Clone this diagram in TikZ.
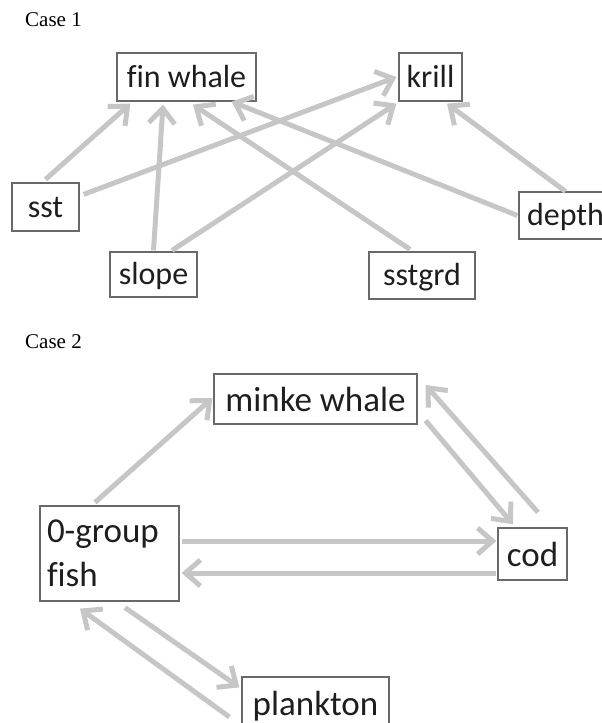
\documentclass[tikz,border=0pt]{standalone}
\usepackage{fontspec}
\setmainfont{Carlito}[Ligatures=NoCommon]
\newfontfamily\casefont{Liberation Serif}
\usetikzlibrary{arrows.meta}

\definecolor{arrgray}{RGB}{198,198,198}
\definecolor{boxgray}{RGB}{105,105,105}
\definecolor{txtgray}{RGB}{30,30,30}

\begin{document}
\begin{tikzpicture}[x=1pt, y=-1pt,
    box/.style={rectangle, draw=boxgray, line width=1.2pt, text=txtgray, inner sep=0pt},
    small/.style={font=\fontsize{32}{38}\selectfont, text height=24pt, text depth=4pt},
    big/.style={font=\fontsize{35}{44}\selectfont, text height=28pt, text depth=3pt},
    arr/.style={draw=arrgray, line width=5pt, -{Straight Barb[length=15pt, width=26pt]}},
    casel/.style={anchor=base west, inner sep=0pt, font=\casefont\fontsize{21}{25}\selectfont}]

  \useasboundingbox (0,0) rectangle (602,723);

  % Case 1
  \node[casel] (case1) at (25,26) {Case 1};

  \node[box, small, minimum width=139pt, minimum height=48pt] (fw)     at (186.5,77)    {fin whale};
  \node[box, small, minimum width=63pt,  minimum height=48pt] (krill)  at (430.5,77)    {krill};
  \node[box, small, minimum width=67pt,  minimum height=48pt] (sst)    at (45.5,207)    {sst};
  \node[box, small, minimum width=87pt,  minimum height=45pt] (slope)  at (153.5,274.5) {slope};
  \node[box, small, minimum width=106pt, minimum height=47pt] (sstgrd) at (422,275.5)   {sstgrd};
  \node[box, small, minimum width=93pt,  minimum height=47pt] (depth)  at (565.5,215.5) {depth};

  \draw[arr] ([yshift=3pt]sst.north) -- ([xshift=14pt,yshift=-2pt]fw.south west);
  \draw[arr] ([xshift=4pt,yshift=-12pt]sst.north east) -- ([xshift=-2pt]krill.west);
  \draw[arr] ([yshift=1pt]slope.north) -- ([xshift=-23.5pt,yshift=-3pt]fw.south);
  \draw[arr] ([xshift=18.5pt,yshift=1pt]slope.north) -- ([xshift=-2pt,yshift=-2pt]krill.south west);
  \draw[arr] ([xshift=-12pt,yshift=2pt]sstgrd.north) -- ([xshift=6.5pt,yshift=-3pt]fw.south);
  \draw[arr] ([xshift=-1pt]depth.west) -- ([xshift=-25pt]fw.south east);
  \draw[arr] (depth.north) -- ([xshift=16.5pt,yshift=-2pt]krill.south);

  % Case 2
  \node[casel] (case2) at (25,348) {Case 2};

  \node[box, big, minimum width=203pt, minimum height=50pt] (minke) at (315.5,399)   {minke whale};
  \node[box, big, minimum width=69pt,  minimum height=52pt] (cod)   at (532.5,554)   {cod};
  \node[box, big, minimum width=147pt, minimum height=51pt] (plank) at (315.5,702.5) {plankton};
  \node[box, font=\fontsize{35}{44}\selectfont, align=left, text width=125pt,
        minimum width=139pt, minimum height=95pt] (fish) at (109.5,553.5) {0-group\\fish};

  \draw[arr] ([xshift=-14.5pt,yshift=3pt]fish.north) -- ([xshift=-1pt,yshift=1pt]minke.west);
  \draw[arr] ([xshift=8pt,yshift=4pt]minke.south east) -- ([xshift=-19.5pt,yshift=3pt]cod.north);
  \draw[arr] ([xshift=5.5pt,yshift=15pt]cod.north) -- ([xshift=8pt,yshift=14pt]minke.east);
  \draw[arr] ([xshift=2pt,yshift=12.5pt]fish.east) -- ([xshift=-1pt,yshift=13pt]cod.west);
  \draw[arr] ([xshift=-1pt,yshift=-19pt]cod.west) -- ([xshift=2pt,yshift=-19.5pt]fish.east);
  \draw[arr] ([xshift=15.5pt,yshift=-6pt]fish.south) -- ([xshift=-2pt,yshift=-11pt]plank.north west);
  \draw[arr] ([xshift=-12pt,yshift=-14.5pt]plank.west) -- ([xshift=-29.5pt,yshift=-7pt]fish.south);
\end{tikzpicture}
\end{document}
